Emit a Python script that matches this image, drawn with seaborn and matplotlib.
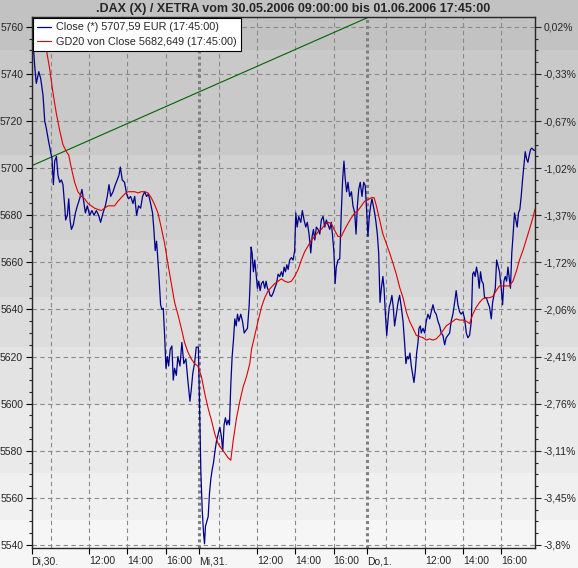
import pandas as pd
import matplotlib.pyplot as plt
import seaborn as sns

# x = trading hours since 30.05.2006 09:00 (each day 09:00-17:45 = 8.75 h)
close_t = [0.08, 0.17, 0.25, 0.38, 0.48, 0.60, 0.69, 0.77, 0.90, 1.00, 1.07, 1.14, 1.21, 1.30, 1.38,
           1.47, 1.56, 1.64, 1.73, 1.78, 1.87, 1.94, 2.01, 2.08, 2.18, 2.29, 2.39, 2.51, 2.63, 2.72,
           2.81, 2.91, 3.03, 3.15, 3.26, 3.38, 3.50, 3.60, 3.73, 3.85, 3.95, 4.04, 4.13, 4.25, 4.37,
           4.47, 4.56, 4.63, 4.73, 4.85, 4.96, 5.06, 5.17, 5.29, 5.38, 5.48, 5.58, 5.69, 5.79, 5.90,
           6.00, 6.10, 6.21, 6.31, 6.38, 6.45, 6.52, 6.59, 6.66, 6.73, 6.80, 6.87, 6.94, 7.01, 7.08,
           7.15, 7.23, 7.32, 7.39, 7.46, 7.55, 7.63, 7.74, 7.84, 7.94, 8.05, 8.15, 8.26, 8.33, 8.41,
           8.50, 8.59, 8.70,
           8.76, 8.78, 8.83, 8.90, 8.97, 9.02, 9.07, 9.14, 9.21, 9.28, 9.35, 9.42, 9.49, 9.56, 9.64,
           9.73, 9.82, 9.90, 9.97, 10.04, 10.11, 10.18, 10.25, 10.32, 10.39, 10.46, 10.53, 10.60,
           10.67, 10.74, 10.81, 10.91, 11.00, 11.09, 11.17, 11.26, 11.35, 11.40, 11.45, 11.50, 11.57,
           11.64, 11.71, 11.78, 11.85, 11.92, 11.99, 12.08, 12.16, 12.23, 12.30, 12.37, 12.44, 12.51,
           12.60, 12.68, 12.77, 12.86, 12.94, 13.03, 13.10, 13.17, 13.24, 13.31, 13.38, 13.46, 13.55,
           13.64, 13.72, 13.78, 13.85, 13.93, 14.04, 14.12, 14.21, 14.30, 14.38, 14.47, 14.56, 14.63,
           14.70, 14.77, 14.85, 14.94, 15.03, 15.11, 15.20, 15.29, 15.37, 15.46, 15.55, 15.63, 15.70,
           15.77, 15.83, 15.89, 15.98, 16.07, 16.15, 16.22, 16.29, 16.36, 16.43, 16.50, 16.59, 16.68,
           16.76, 16.85, 16.92, 16.99, 17.06, 17.14, 17.23, 17.32, 17.40,
           17.47, 17.54, 17.61, 17.68, 17.75, 17.82, 17.89, 17.96, 18.03, 18.10, 18.17, 18.24, 18.32,
           18.38, 18.45, 18.52, 18.59, 18.65, 18.72, 18.79, 18.86, 18.93, 19.02, 19.11, 19.19, 19.28,
           19.37, 19.45, 19.52, 19.59, 19.66, 19.73, 19.80, 19.89, 19.94, 20.01, 20.08, 20.15, 20.20,
           20.27, 20.32, 20.41, 20.50, 20.58, 20.67, 20.76, 20.84, 20.93, 21.02, 21.10, 21.19, 21.28,
           21.36, 21.45, 21.54, 21.62, 21.71, 21.80, 21.88, 21.97, 22.06, 22.14, 22.23, 22.32, 22.40,
           22.49, 22.58, 22.67, 22.75, 22.84, 22.93, 23.00, 23.06, 23.13, 23.20, 23.27, 23.34, 23.41,
           23.48, 23.55, 23.62, 23.71, 23.79, 23.88, 23.97, 24.04, 24.11, 24.18, 24.25, 24.31, 24.40,
           24.49, 24.56, 24.63, 24.70, 24.77, 24.84, 24.90, 24.97, 25.04, 25.11, 25.18, 25.25, 25.32,
           25.39, 25.46, 25.53, 25.60, 25.67, 25.74, 25.81, 25.88, 25.95, 26.02, 26.09, 26.19, 26.25]
close_v = [5753.5, 5743, 5736, 5741, 5738, 5731, 5720, 5717, 5711, 5707, 5704, 5693, 5703, 5705, 5697,
           5694, 5695, 5693, 5684, 5678, 5680, 5687, 5678, 5674, 5676, 5681, 5684, 5687, 5691, 5686,
           5681, 5684, 5680, 5682, 5680, 5682, 5680, 5677, 5681, 5684, 5688, 5693, 5688, 5690, 5693,
           5695, 5697, 5700.5, 5695, 5694, 5689, 5687, 5688, 5685, 5688, 5680, 5684, 5683, 5688, 5690,
           5688, 5689, 5685, 5681, 5674, 5665, 5669, 5661, 5652, 5642, 5640, 5640.5, 5629, 5615, 5620,
           5616, 5623, 5624.5, 5610, 5615, 5612, 5620, 5616, 5626, 5617, 5619, 5610, 5601, 5606, 5613,
           5617, 5624, 5624,
           5600, 5592, 5571, 5555, 5545, 5540.5, 5548, 5550, 5552, 5562, 5568, 5572, 5575, 5579.5, 5584,
           5587, 5590, 5586, 5580, 5591, 5594, 5591, 5593, 5591, 5608, 5620, 5627, 5636,
           5633, 5638, 5635, 5638, 5635, 5630, 5631, 5632, 5642, 5652, 5666.5, 5664, 5656,
           5661, 5655, 5649, 5652, 5648, 5651, 5652, 5649, 5652, 5649, 5648, 5646, 5645.5,
           5647, 5649, 5651, 5655, 5654, 5656, 5654, 5658, 5656, 5659, 5657, 5661, 5662,
           5661, 5665, 5681, 5675, 5679.5, 5677, 5682, 5678, 5675, 5677, 5672, 5664, 5671,
           5674, 5669.5, 5675, 5674, 5672, 5678, 5679.5, 5675, 5678, 5676, 5674, 5677, 5671,
           5664, 5651, 5658, 5661, 5661.5, 5681, 5695, 5703, 5695, 5690, 5694, 5688, 5690,
           5684, 5681, 5672, 5684, 5691, 5694, 5688, 5694, 5692.5,
           5682.5, 5671, 5679.5, 5684, 5687, 5684, 5681, 5677, 5672, 5664, 5643, 5649, 5654,
           5649, 5638, 5629, 5636, 5641, 5643, 5646, 5641, 5633, 5638, 5643, 5646, 5641,
           5635, 5626, 5617, 5620, 5619, 5621.5, 5616, 5611.5, 5609, 5614, 5621.5, 5626, 5632,
           5633, 5630, 5632, 5630, 5635, 5638, 5636, 5639, 5642, 5639, 5638, 5635, 5633,
           5630, 5629, 5625, 5628, 5629, 5630, 5635, 5638, 5643, 5648, 5642, 5639, 5638,
           5639, 5636, 5630, 5628, 5629, 5635, 5655, 5656, 5654, 5658, 5655, 5649, 5656,
           5652, 5651, 5645, 5645, 5643, 5641, 5636, 5643, 5646, 5649, 5661, 5659, 5656,
           5649, 5642, 5652, 5654, 5652, 5658, 5654, 5649, 5664, 5672, 5681, 5678, 5675,
           5681, 5682.5, 5688, 5695, 5701, 5707, 5704, 5702.5, 5705.5, 5708, 5708.5, 5707.6, 5707.59]

gd20_t = [0.35, 0.60, 0.77, 0.95, 1.12, 1.30, 1.47, 1.64, 1.82, 1.94, 2.08, 2.25, 2.42, 2.60, 2.77,
          2.95, 3.12, 3.29, 3.47, 3.64, 3.81, 3.99, 4.16, 4.33, 4.51, 4.68, 4.85, 5.03, 5.20, 5.38,
          5.55, 5.72, 5.90, 6.07, 6.24, 6.42, 6.59, 6.76, 6.94, 7.11, 7.29, 7.46, 7.63, 7.81, 7.98,
          8.15, 8.33, 8.50, 8.67, 8.86, 9.04, 9.21, 9.38, 9.56, 9.73, 9.90, 10.08, 10.25, 10.39,
          10.51, 10.69, 10.86, 11.03, 11.21, 11.38, 11.47, 11.64, 11.81, 11.99, 12.16, 12.34, 12.51,
          12.68, 12.86, 13.03, 13.20, 13.38, 13.55, 13.72, 13.90, 14.07, 14.24, 14.42, 14.59, 14.77,
          14.94, 15.11, 15.29, 15.46, 15.63, 15.81, 15.98, 16.15, 16.33, 16.50, 16.68, 16.85, 17.02,
          17.20, 17.37, 17.54, 17.72, 17.86, 17.98, 18.15, 18.32, 18.50, 18.67, 18.85, 19.02, 19.19,
          19.37, 19.54, 19.71, 19.89, 20.06, 20.23, 20.41, 20.58, 20.76, 20.93, 21.10, 21.28, 21.45,
          21.62, 21.80, 21.97, 22.14, 22.32, 22.49, 22.67, 22.84, 23.01, 23.19, 23.36, 23.53, 23.71,
          23.88, 24.05, 24.23, 24.40, 24.57, 24.75, 24.92, 25.10, 25.27, 25.44, 25.62, 25.79, 25.96,
          26.14, 26.25]
gd20_v = [5770, 5756, 5750.6, 5742, 5732, 5723, 5716, 5710, 5707, 5705.6, 5700, 5694, 5690, 5688, 5687,
          5685, 5684, 5683, 5682.5, 5682, 5683, 5684, 5684, 5684, 5686, 5687.5, 5689, 5690, 5690, 5690,
          5689.5, 5690, 5690, 5689.5, 5687.5, 5684.5, 5681, 5675, 5668, 5659.5, 5651, 5643, 5638, 5632, 5626,
          5622, 5619, 5617, 5616, 5611.5, 5604, 5598, 5593, 5587, 5583, 5581, 5579, 5577, 5576,
          5584, 5594, 5601, 5607, 5611.5, 5617, 5623, 5629, 5635, 5641, 5645, 5648, 5649.5,
          5651, 5652, 5653, 5652, 5651.5, 5652, 5654, 5657, 5661, 5664.5, 5667, 5669.5, 5671,
          5673, 5674, 5676, 5677, 5676.5, 5673.5, 5671, 5671, 5674, 5676.5, 5679, 5681, 5682,
          5684, 5686, 5686.5, 5687.5, 5687.5, 5684, 5678, 5672, 5668, 5664, 5659.5, 5655, 5649.5,
          5645, 5639, 5635, 5632, 5629, 5628.5, 5628, 5627, 5627.5, 5627, 5627.5, 5629, 5631,
          5633, 5634, 5635, 5636, 5635.5, 5635.5, 5635, 5634, 5638, 5641, 5643, 5644.5, 5645,
          5645, 5645.5, 5648, 5650, 5650, 5650, 5650, 5652, 5656, 5661, 5665, 5669.5, 5674,
          5679, 5682.649]

trend_t = [0, 26.25]
trend_v = [5701, 5795.3]

y_ticks = [5760, 5740, 5720, 5700, 5680, 5660, 5640, 5620, 5600, 5580, 5560, 5540]
pct_labels = ["0,02%", "-0,33%", "-0,67%", "-1,02%", "-1,37%", "-1,72%",
              "-2,06%", "-2,41%", "-2,76%", "-3,11%", "-3,45%", "-3,8%"]
x_ticks = [0, 3, 5, 7, 8.75, 11.75, 13.75, 15.75, 17.5, 20.5, 22.5, 24.5]
x_labels = ["Di,30.", "12:00", "14:00", "16:00", "Mi,31.", "12:00", "14:00", "16:00",
            "Do,1.", "12:00", "14:00", "16:00"]
grid_x = [1, 3, 5, 7, 9.75, 11.75, 13.75, 15.75, 18.5, 20.5, 22.5, 24.5]
day_lines = [8.75, 17.5]

close = pd.DataFrame({"t": close_t, "v": close_v})
gd20 = pd.DataFrame({"t": gd20_t, "v": gd20_v})
trend = pd.DataFrame({"t": trend_t, "v": trend_v})

sns.set_style("ticks")
plt.rcParams["font.family"] = ["Liberation Sans", "DejaVu Sans"]

W, H = 578, 568
fig = plt.figure(figsize=(W / 100, H / 100), dpi=100)

# grey gradient bands behind everything (pixel rows)
bg = fig.add_axes([0, 0, 1, 1], zorder=-1)
bg.set_xlim(0, W)
bg.set_ylim(H, 0)
bg.axis("off")
band_edges = [0, 50, 155, 240, 297, 347, 405, 473, 520, H]
band_cols = ["#c2c2c2", "#c9c9c9", "#d1d1d1", "#d7d7d7", "#dddddd",
             "#e3e3e3", "#eaeaea", "#f0f0f0", "#f6f6f6"]
for (a, b), c in zip(zip(band_edges[:-1], band_edges[1:]), band_cols):
    bg.axhspan(a, b, color=c, lw=0)

ax = fig.add_axes([31.5 / W, 20 / H, 503.5 / W, 531 / H])
ax.set_facecolor("none")

for x in grid_x:
    ax.axvline(x, color="#8a8a8a", lw=0.8, ls=(0, (4, 3)), zorder=1)
for y in y_ticks:
    ax.axhline(y, color="#8a8a8a", lw=0.8, ls=(0, (4, 3)), zorder=1)
for x in day_lines:
    ax.axvline(x, color="#808080", lw=2.2, ls=(0, (1, 1)), zorder=1)

sns.lineplot(data=trend, x="t", y="v", ax=ax, color="#006400", lw=0.8,
             estimator=None, sort=False, zorder=2)
sns.lineplot(data=close, x="t", y="v", ax=ax, color="#00008b", lw=0.9,
             estimator=None, sort=False, label="Close (*) 5707,59 EUR (17:45:00)", zorder=3)
sns.lineplot(data=gd20, x="t", y="v", ax=ax, color="#e00000", lw=0.8,
             estimator=None, sort=False, label="GD20 von Close 5682,649 (17:45:00)", zorder=3)

ax.set_xlim(0, 26.25)
ax.set_ylim(5538.7, 5764.2)
ax.set_xlabel("")
ax.set_ylabel("")
ax.set_yticks(y_ticks)
ax.set_yticklabels([str(v) for v in y_ticks])
ax.set_yticks(range(5540, 5765, 5), minor=True)
ax.set_xticks(x_ticks)
ax.set_xticklabels(x_labels, ha="left")
ax.tick_params(axis="both", labelsize=7.5, length=4, width=0.8, color="black", pad=2)
ax.tick_params(axis="y", which="minor", length=2.5, width=0.8)
for s in ax.spines.values():
    s.set_color("black")
    s.set_linewidth(0.9)

ax2 = ax.twinx()
ax2.set_ylim(ax.get_ylim())
ax2.set_yticks(y_ticks)
ax2.set_yticklabels(pct_labels)
ax2.set_yticks(range(5540, 5765, 5), minor=True)
ax2.tick_params(axis="y", labelsize=7.5, length=4, width=0.8, pad=2)
ax2.tick_params(axis="y", which="minor", length=2.5, width=0.8)

leg = ax.legend(loc="upper left", bbox_to_anchor=(0.002, 0.998), fontsize=7.8,
                handlelength=1.3, handletextpad=0.5, borderaxespad=0, borderpad=0.4,
                labelspacing=0.4, fancybox=False, framealpha=1, edgecolor="black")
leg.get_frame().set_linewidth(0.8)
leg.set_zorder(10)

fig.text(293.5 / W, 1 - 9 / H, ".DAX (X) / XETRA vom 30.05.2006 09:00:00 bis 01.06.2006 17:45:00",
         ha="center", va="center", fontsize=9, fontweight="bold")

fig.savefig("out.png", dpi=100)
